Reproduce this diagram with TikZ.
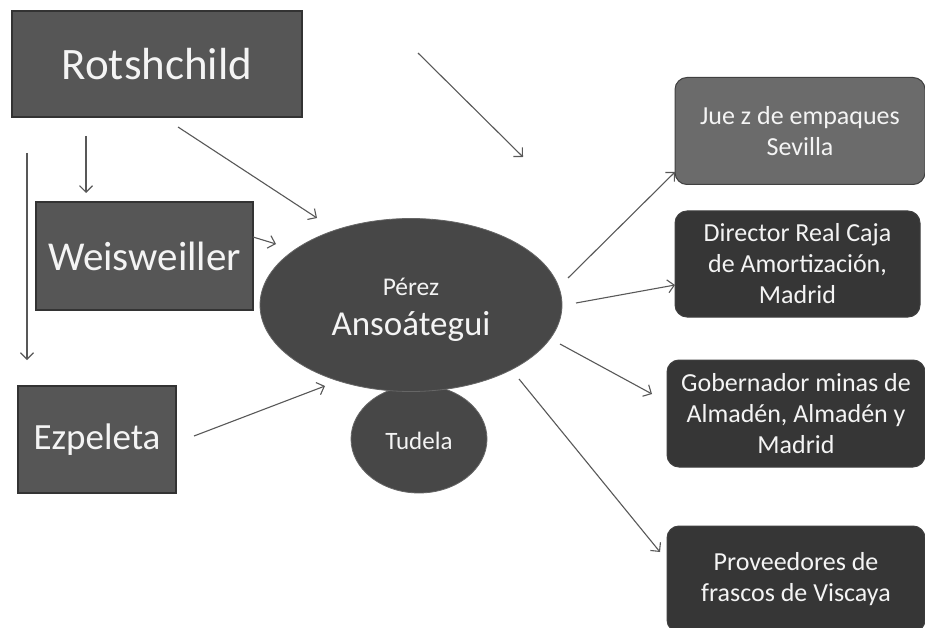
\documentclass[tikz,border=0pt]{standalone}
\usepackage{fontspec}
\setmainfont{Carlito}
\usetikzlibrary{arrows.meta,shapes.geometric}
\definecolor{boxgray}{HTML}{565656}
\definecolor{ellgray}{HTML}{474747}
\definecolor{juegray}{HTML}{6B6B6B}
\definecolor{darkgray}{HTML}{363636}
\definecolor{linegray}{HTML}{585858}
\definecolor{txt}{HTML}{F4F4F4}
\begin{document}
\begin{tikzpicture}[x=1pt,y=-1pt,
  box/.style={draw=black!80, line width=1.6pt, fill=boxgray, text=txt, inner sep=0pt},
  rbox/.style={rounded corners=12pt, fill=#1, draw=black!75, line width=1pt, text=txt,
    align=center, inner sep=0pt, font=\fontsize{26}{31}\selectfont},
  oval/.style={ellipse, fill=ellgray, draw=black!60, line width=0.8pt, inner sep=0pt},
  lbl/.style={text=txt, inner sep=0pt},
  arr/.style={draw=linegray, line width=1.1pt, -{Straight Barb[length=6.5pt,width=13pt]}}]
\useasboundingbox (0,0) rectangle (925,628);
\fill[white] (0,0) rectangle (925,628);

% left boxes
\node[box, minimum width=290pt, minimum height=106pt, font=\fontsize{45}{50}\selectfont] (rot) at (157,64) {Rotshchild};
\node[box, minimum width=217pt, minimum height=108pt, font=\fontsize{41}{44}\selectfont] (weis) at (144.5,256) {Weisweiller};
\node[box, minimum width=158pt, minimum height=107pt, font=\fontsize{37}{40}\selectfont] (ezp) at (97,439.5) {Ezpeleta};

% central ovals
\node[oval, minimum width=136pt, minimum height=108pt] (tud) at (419,439) {};
\node[lbl, font=\fontsize{25}{28}\selectfont] (tudt) at (419,441) {Tudela};
\node[oval, minimum width=302pt, minimum height=173pt] (per) at (411,305) {};
\node[lbl, font=\fontsize{25.5}{28}\selectfont, anchor=base] (pert) at (411,295) {Pérez};
\node[lbl, font=\fontsize{35}{38}\selectfont, anchor=base] (anst) at (411,335) {Ansoátegui};

% right boxes
\node[rbox=juegray, minimum width=250pt, minimum height=107pt] (jue) at (800,131) {Jue z de empaques\\Sevilla};
\node[rbox=darkgray, minimum width=245pt, minimum height=106pt] (dir) at (797.5,264) {Director Real Caja\\de Amortización,\\Madrid};
\node[rbox=darkgray, minimum width=258pt, minimum height=107pt] (gob) at (796,413.5) {Gobernador minas de\\Almadén, Almadén y\\Madrid};
\node[rbox=darkgray, minimum width=258pt, minimum height=106pt] (pro) at (796,579) {Proveedores de\\frascos de Viscaya};

% connector end points
\coordinate (a1s) at (86,136);   \coordinate (a1e) at (86,193);
\coordinate (a2s) at (27,153);   \coordinate (a2e) at (27,360);
\coordinate (a3s) at (178,127);  \coordinate (a3e) at (317,218);
\coordinate (a4s) at (253,237);  \coordinate (a4e) at (276,244);
\coordinate (a5s) at (194,436);  \coordinate (a5e) at (325,386);
\coordinate (a6s) at (418,53);   \coordinate (a6e) at (523,157);
\coordinate (a7s) at (568,278);  \coordinate (a7e) at (675,172);
\coordinate (a8s) at (576,303);  \coordinate (a8e) at (675,285);
\coordinate (a9s) at (560,344);  \coordinate (a9e) at (652,394);
\coordinate (a10s) at (519,379); \coordinate (a10e) at (660,552);

\draw[arr] (a1s) -- (a1e);
\draw[arr] (a2s) -- (a2e);
\draw[arr] (a3s) -- (a3e);
\draw[arr] (a4s) -- (a4e);
\draw[arr] (a5s) -- (a5e);
\draw[arr] (a6s) -- (a6e);
\draw[arr] (a7s) -- (a7e);
\draw[arr] (a8s) -- (a8e);
\draw[arr] (a9s) -- (a9e);
\draw[arr] (a10s) -- (a10e);
\end{tikzpicture}
\end{document}
